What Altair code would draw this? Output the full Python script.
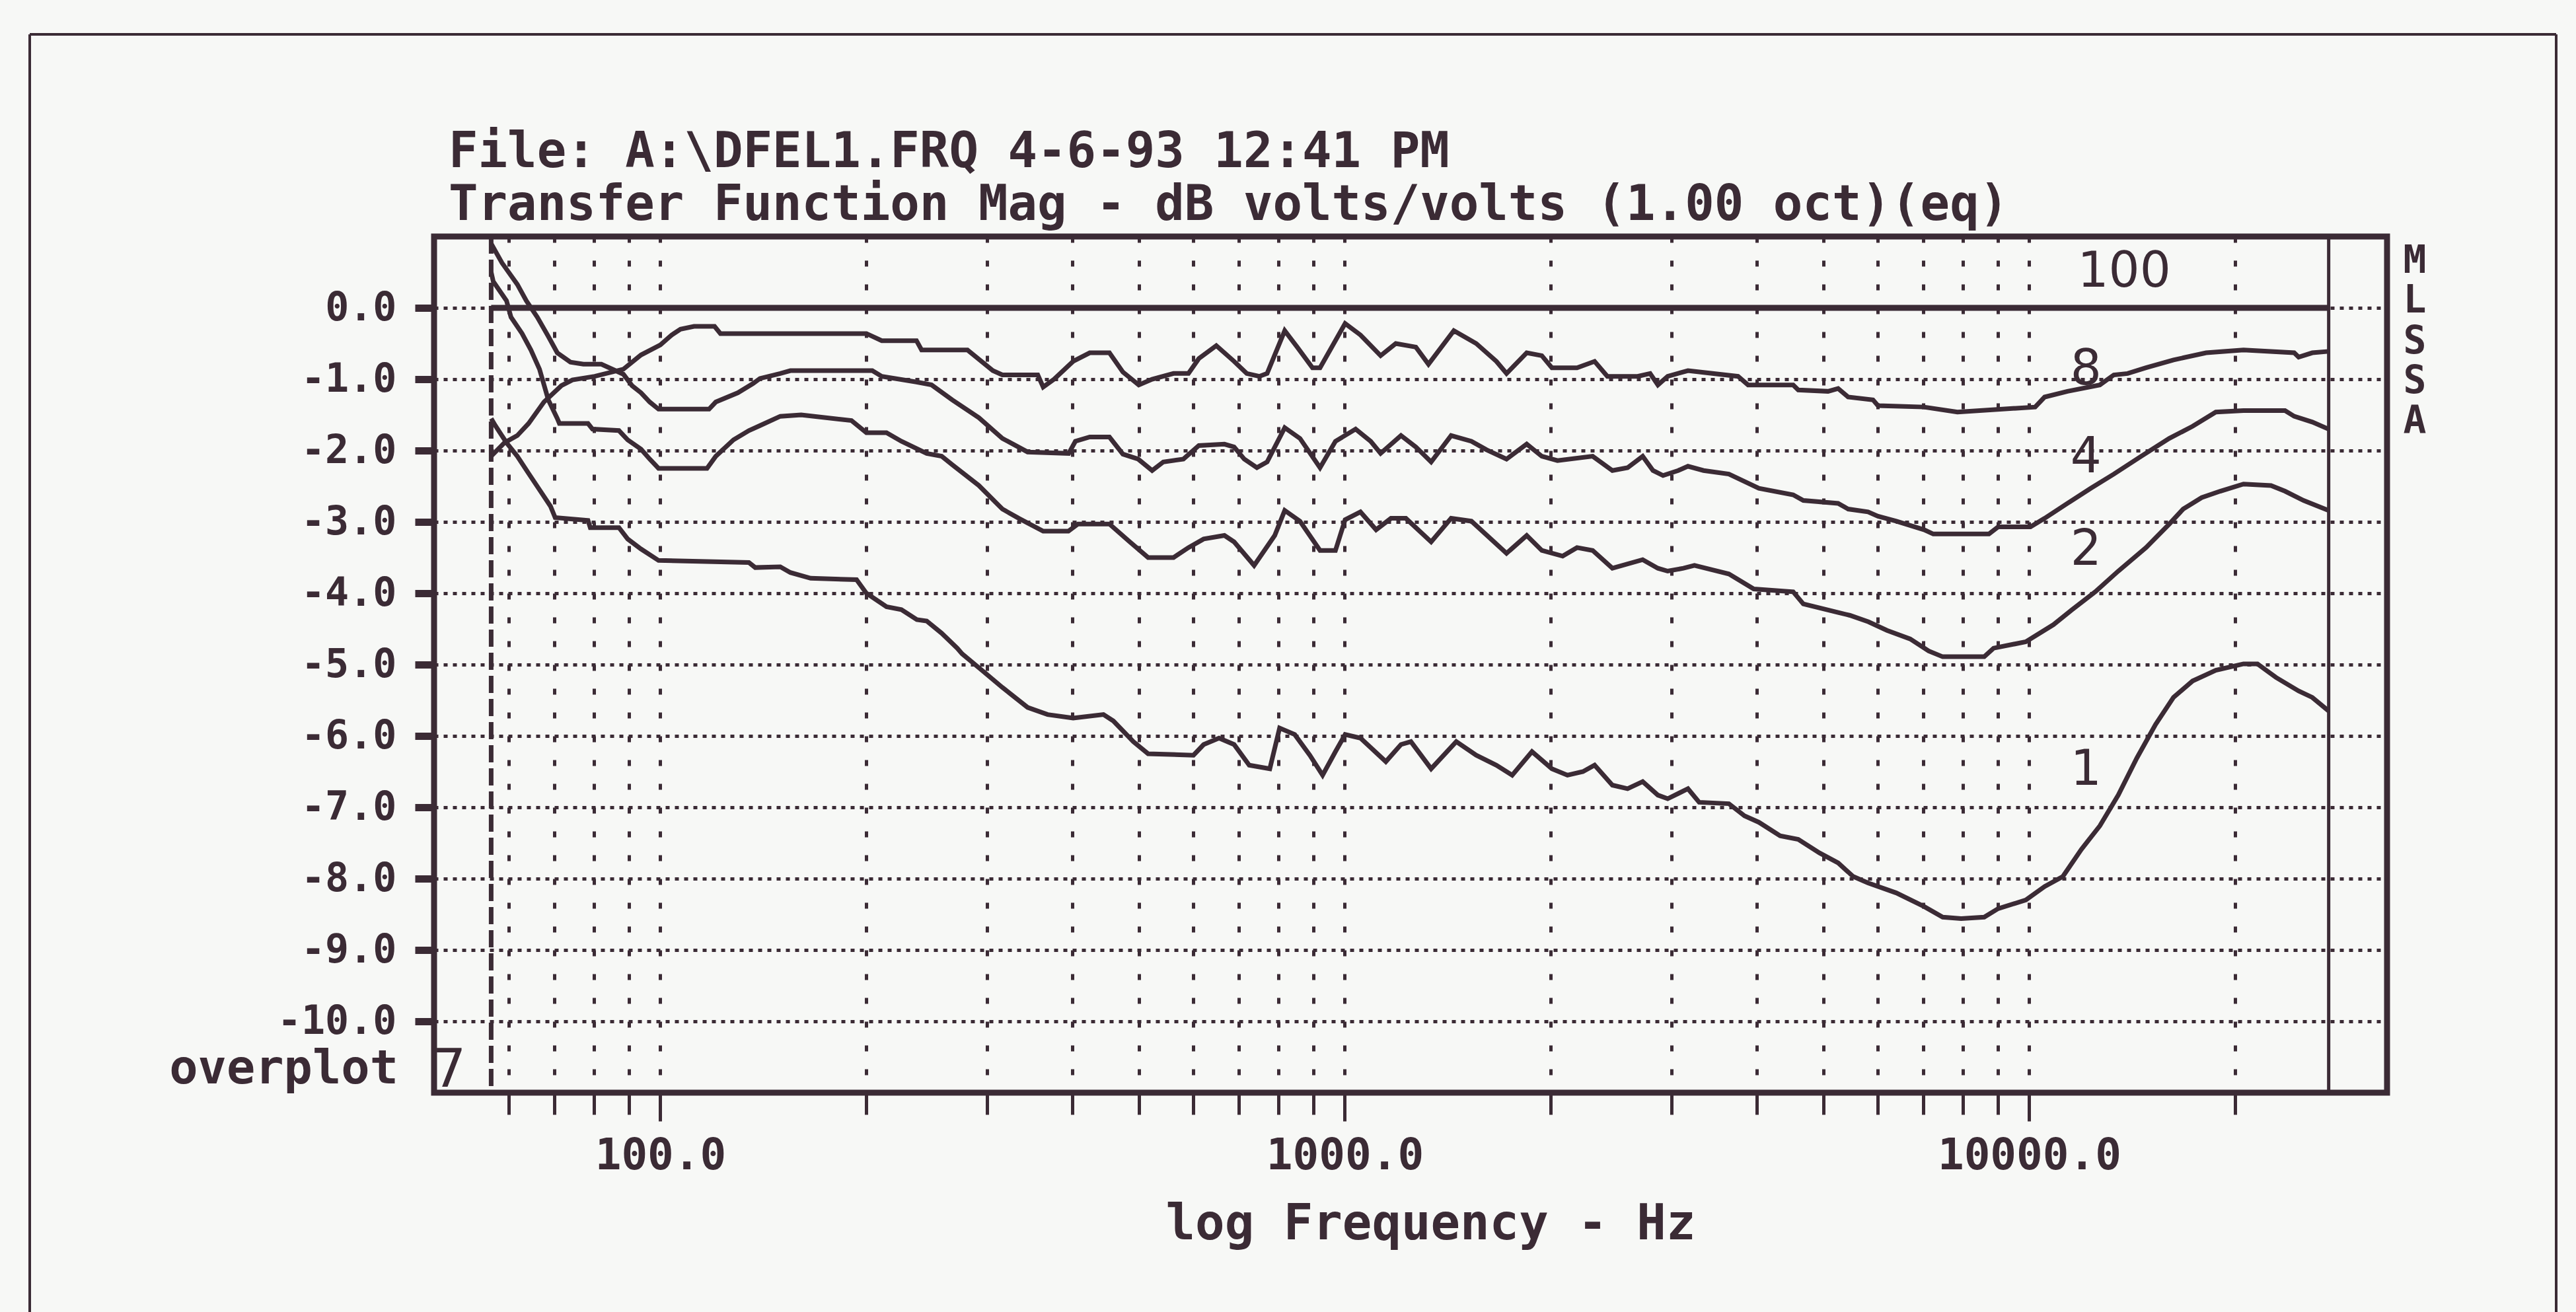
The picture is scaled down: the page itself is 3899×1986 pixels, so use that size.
import altair as alt
import pandas as pd

INK = "#3b2b35"
PAPER = "#f7f8f6"
MONO = "DejaVu Sans Mono"
SANS = "DejaVu Sans"

TITLE_1 = "File: A:\\DFEL1.FRQ 4-6-93 12:41 PM"
TITLE_2 = "Transfer Function Mag - dB volts/volts (1.00 oct)(eq)"
X_TITLE = "log Frequency - Hz"

X_DOMAIN = [46.71, 33320]
Y_DOMAIN = [-11, 1]
X_TICKS = [60, 70, 80, 90, 100, 200, 300, 400, 500, 600, 700, 800, 900,
           1000, 2000, 3000, 4000, 5000, 6000, 7000, 8000, 9000, 10000, 20000]
X_MAJOR = [100, 1000, 10000]
Y_TICKS = [-10, -9, -8, -7, -6, -5, -4, -3, -2, -1, 0]

# data window limits (left dashed boundary, right inner boundary)
BOUNDS = [56.6, 27380]

FREQ_100 = [56.6, 27380]
DB_100 = [0.0, 0.0]

FREQ_8 = [56.6, 59.2, 61.8, 64.2, 67.6, 71.7, 74.4, 80.2, 88.3, 93.7, 100, 103.9, 107, 112, 120,
          122.4, 200, 210.6, 236.7, 240.8, 281, 306, 316, 356, 362.5, 376, 401, 424, 453, 474,
          500, 523, 562, 591, 612, 649, 689, 719, 750, 770, 817, 852, 897, 920, 1001, 1054,
          1128, 1187, 1270, 1325, 1443, 1556, 1665, 1723, 1844, 1940, 2007, 2184, 2317, 2419,
          2678, 2793, 2867, 2963, 3172, 3754, 3883, 4519, 4597, 5082, 5257, 5437, 5911, 6011,
          7017, 7853, 10199, 10530, 11372, 12680, 13290, 13920, 14810, 16245, 18130, 20557,
          24380, 24750, 25910, 27380]
DB_8 = [-2.08, -1.89, -1.79, -1.62, -1.32, -1.09, -1.01, -0.96, -0.86, -0.66, -0.52, -0.38, -0.30,
        -0.26, -0.26, -0.36, -0.36, -0.46, -0.46, -0.59, -0.59, -0.88, -0.94, -0.94, -1.11, -1.00,
        -0.75, -0.63, -0.63, -0.90, -1.08, -1.00, -0.92, -0.92, -0.71, -0.53, -0.75, -0.92, -0.96,
        -0.92, -0.32, -0.55, -0.84, -0.84, -0.22, -0.38, -0.67, -0.50, -0.55, -0.79, -0.32, -0.50,
        -0.75, -0.92, -0.63, -0.67, -0.84, -0.84, -0.75, -0.96, -0.96, -0.92, -1.08, -0.96, -0.88,
        -0.96, -1.08, -1.08, -1.15, -1.17, -1.13, -1.25, -1.29, -1.37, -1.39, -1.46, -1.39, -1.25,
        -1.17, -1.08, -0.94, -0.92, -0.84, -0.73, -0.63, -0.59, -0.63, -0.69, -0.63, -0.61]

FREQ_4 = [56.6, 58.7, 61.8, 63.7, 66.1, 68.6, 70.7, 73.9, 77.2, 82.0, 88.3, 90.9, 93.7, 96.5, 99.4,
          117.8, 120.5, 129.8, 136.6, 139.8, 149.7, 154.9, 204, 210.6, 236.7, 249, 267, 292, 316,
          344, 395, 404, 424, 453, 474, 499, 523, 543, 581, 612, 667, 689, 713, 744, 770, 817,
          860, 920, 969, 1037, 1091, 1128, 1208, 1270, 1337, 1430, 1531, 1611, 1723, 1844, 1940,
          2045, 2302, 2460, 2589, 2724, 2820, 2917, 3070, 3172, 3343, 3640, 4027, 4519, 4676,
          5257, 5437, 5813, 6011, 6392, 7017, 7240, 8731, 9007, 10040, 10530, 11372, 12293,
          13290, 14573, 16016, 17323, 18730, 20557, 23640, 24380, 25910, 27380]
DB_4 = [0.90, 0.63, 0.33, 0.10, -0.13, -0.40, -0.63, -0.76, -0.79, -0.79, -0.93, -1.09, -1.19,
        -1.32, -1.42, -1.42, -1.32, -1.19, -1.06, -0.99, -0.92, -0.88, -0.88, -0.96, -1.04, -1.08,
        -1.29, -1.54, -1.83, -2.02, -2.04, -1.87, -1.81, -1.81, -2.05, -2.12, -2.28, -2.16, -2.12,
        -1.93, -1.91, -1.95, -2.12, -2.24, -2.16, -1.68, -1.83, -2.24, -1.87, -1.70, -1.87, -2.04,
        -1.79, -1.95, -2.16, -1.79, -1.87, -1.99, -2.12, -1.91, -2.08, -2.14, -2.08, -2.28, -2.24,
        -2.08, -2.28, -2.35, -2.28, -2.22, -2.28, -2.33, -2.53, -2.62, -2.70, -2.74, -2.82, -2.86,
        -2.92, -2.99, -3.11, -3.17, -3.17, -3.07, -3.07, -2.95, -2.74, -2.53, -2.33, -2.08, -1.83,
        -1.66, -1.46, -1.44, -1.44, -1.52, -1.60, -1.70]

FREQ_2 = [56.6, 57.0, 59.6, 60.5, 62.8, 64.7, 66.6, 68.6, 70.7, 71.2, 78.4, 79.6, 87.0, 89.6, 93.7,
          96.5, 99.4, 117, 120.5, 127.9, 134.7, 139.8, 149.7, 160.6, 190.2, 200, 214, 225, 245,
          257.6, 267, 292, 316, 334, 362.5, 394.6, 407.5, 453, 485, 516, 562, 591, 622, 667, 689,
          737, 790, 817, 860, 920, 969, 1001, 1054, 1111, 1168, 1228, 1337, 1430, 1531, 1723,
          1844, 1940, 2081, 2184, 2302, 2460, 2724, 2867, 2963, 3124, 3242, 3640, 3958, 4519,
          4676, 5257, 5470, 5822, 6196, 6698, 7130, 7473, 8594, 8869, 9884, 10848, 11553, 12485,
          13489, 14810, 16016, 16782, 17860, 19010, 20557, 22553, 23640, 25160, 27380]
DB_2 = [0.50, 0.37, 0.10, -0.13, -0.36, -0.59, -0.86, -1.29, -1.55, -1.62, -1.62, -1.70, -1.72,
        -1.85, -1.98, -2.12, -2.25, -2.25, -2.08, -1.85, -1.72, -1.65, -1.52, -1.50, -1.58, -1.75,
        -1.75, -1.87, -2.04, -2.08, -2.20, -2.49, -2.82, -2.95, -3.13, -3.13, -3.03, -3.03, -3.28,
        -3.50, -3.50, -3.36, -3.24, -3.19, -3.28, -3.61, -3.19, -2.84, -2.99, -3.40, -3.40, -2.97,
        -2.86, -3.11, -2.95, -2.95, -3.28, -2.95, -2.99, -3.44, -3.19, -3.40, -3.48, -3.36, -3.40,
        -3.65, -3.53, -3.65, -3.69, -3.65, -3.61, -3.73, -3.94, -3.98, -4.15, -4.27, -4.31, -4.40,
        -4.52, -4.64, -4.81, -4.89, -4.89, -4.77, -4.68, -4.44, -4.23, -3.98, -3.69, -3.36, -3.03,
        -2.82, -2.66, -2.57, -2.47, -2.49, -2.57, -2.70, -2.84]

FREQ_1 = [56.6, 57.4, 59.6, 61.8, 64.2, 66.6, 69.1, 70.2, 78.4, 79.0, 87.0, 89.6, 93.7, 99.4,
          134.7, 137.6, 149.7, 154.9, 165.8, 193.5, 200, 214, 225, 237, 245, 257.6, 271.5, 276,
          295, 316, 344, 368, 401, 444, 459, 491, 516, 601, 622, 655, 689, 725, 777, 803, 845,
          889, 928, 969, 1001, 1054, 1148, 1208, 1249, 1337, 1455, 1556, 1665, 1756, 1877, 2007,
          2115, 2228, 2317, 2460, 2589, 2724, 2867, 2963, 3172, 3294, 3640, 3837, 4027, 4325,
          4597, 4939, 5257, 5530, 5813, 6392, 7017, 7473, 7952, 8594, 9007, 9884, 10530, 11195,
          11914, 12680, 13489, 14360, 15290, 16245, 17323, 18730, 20557, 21550, 22930, 24750,
          25910, 27380]
DB_1 = [-1.55, -1.65, -1.89, -2.08, -2.32, -2.55, -2.78, -2.94, -2.98, -3.08, -3.08, -3.24, -3.38,
        -3.54, -3.57, -3.64, -3.63, -3.71, -3.79, -3.81, -4.00, -4.19, -4.23, -4.37, -4.39, -4.56,
        -4.77, -4.85, -5.08, -5.32, -5.60, -5.70, -5.75, -5.70, -5.79, -6.08, -6.25, -6.27, -6.12,
        -6.03, -6.12, -6.41, -6.46, -5.89, -5.98, -6.27, -6.55, -6.22, -5.98, -6.03, -6.36, -6.12,
        -6.08, -6.46, -6.08, -6.27, -6.41, -6.55, -6.22, -6.46, -6.55, -6.50, -6.41, -6.69, -6.74,
        -6.64, -6.83, -6.88, -6.74, -6.93, -6.95, -7.12, -7.21, -7.40, -7.45, -7.64, -7.78, -7.97,
        -8.06, -8.20, -8.39, -8.54, -8.56, -8.54, -8.42, -8.30, -8.11, -7.97, -7.59, -7.26, -6.83,
        -6.31, -5.84, -5.46, -5.23, -5.08, -4.99, -4.99, -5.18, -5.37, -5.46, -5.65]

CURVE_NAMES = ["100", "8", "4", "2", "1"]
CURVE_FREQS = [FREQ_100, FREQ_8, FREQ_4, FREQ_2, FREQ_1]
CURVE_DBS = [DB_100, DB_8, DB_4, DB_2, DB_1]

LABEL_TEXT = ["100", "8", "4", "2", "1"]
LABEL_FREQ = [13760, 12100, 12100, 12100, 12100]
LABEL_DB = [0.50, -0.87, -2.10, -3.40, -6.48]

SIDE_TEXT = ["M", "L", "S", "S", "A"]
SIDE_FREQ = [36580, 36580, 36580, 36580, 36580]
SIDE_DB = [0.65, 0.09, -0.48, -1.04, -1.60]

rows = []
for name, fs, ds in zip(CURVE_NAMES, CURVE_FREQS, CURVE_DBS):
    for f, d in zip(fs, ds):
        rows.append({"curve": name, "freq": f, "db": d})
curves_df = pd.DataFrame(rows)

labels_df = pd.DataFrame({"t": LABEL_TEXT, "freq": LABEL_FREQ, "db": LABEL_DB})
side_df = pd.DataFrame({"t": SIDE_TEXT, "freq": SIDE_FREQ, "db": SIDE_DB})
bound_left = pd.DataFrame({"freq": BOUNDS[:1]})
bound_right = pd.DataFrame({"freq": BOUNDS[1:]})

xscale = alt.Scale(type="log", domain=X_DOMAIN, nice=False)
yscale = alt.Scale(domain=Y_DOMAIN, nice=False, zero=False)

major_test = " || ".join(f"datum.value == {v}" for v in X_MAJOR)

x_axis = alt.Axis(
    values=X_TICKS,
    grid=True, gridColor=INK, gridWidth=5, gridDash=[9, 27], gridOpacity=1,
    domain=False,
    ticks=True, tickColor=INK, tickWidth=5,
    tickSize={"condition": {"test": major_test, "value": 43}, "value": 33},
    labelExpr=f"({major_test}) ? format(datum.value, '.1f') : ''",
    labelFont=MONO, labelFontSize=66, labelFontWeight="bold", labelColor=INK,
    labelBaseline="alphabetic", labelPadding=72, labelOverlap=False, labelFlush=False,
    labelLimit=1000,
    title=X_TITLE, titleFont=MONO, titleFontSize=74, titleFontWeight="bold", titleColor=INK,
    titleX=1508, titleY=221, titleBaseline="alphabetic", titleAlign="center", titleLimit=3000,
)
y_axis = alt.Axis(
    values=Y_TICKS,
    grid=True, gridColor=INK, gridWidth=5, gridDash=[6, 8], gridOpacity=1,
    domain=False,
    ticks=True, tickColor=INK, tickWidth=11, tickSize=29,
    labelExpr="(datum.value < 0 ? '-' : '') + format(abs(datum.value), '.1f')",
    labelFont=MONO, labelFontSize=60, labelFontWeight="bold", labelColor=INK,
    labelPadding=28, labelAlign="right", labelBaseline="middle", labelLimit=1000,
    title=None,
)


def X(field="freq:Q"):
    return alt.X(field, scale=xscale, axis=x_axis)


def Y(field="db:Q"):
    return alt.Y(field, scale=yscale, axis=y_axis)


lines = alt.Chart(curves_df).mark_line(color=INK).encode(
    x=X(),
    y=Y(),
    detail="curve:N",
    strokeWidth=alt.condition(alt.datum.curve == "100", alt.value(9), alt.value(7)),
)

left_bound = alt.Chart(bound_left).mark_rule(color=INK, strokeWidth=7, strokeDash=[26, 9]).encode(
    x=X()
)
right_bound = alt.Chart(bound_right).mark_rule(color=INK, strokeWidth=5).encode(
    x=X()
)

curve_labels = alt.Chart(labels_df).mark_text(
    font=SANS, fontSize=74, color=INK, align="center", baseline="middle"
).encode(x=X(), y=Y(), text="t:N")

side_labels = alt.Chart(side_df).mark_text(
    font=MONO, fontSize=58, fontWeight="bold", color=INK, align="center", baseline="middle"
).encode(x=X(), y=Y(), text="t:N")

title1 = alt.Chart(pd.DataFrame({"t": [TITLE_1]})).mark_text(
    font=MONO, fontSize=74, fontWeight="bold", color=INK, align="left", baseline="alphabetic"
).encode(text="t:N", x=alt.value(22), y=alt.value(-105))

title2 = alt.Chart(pd.DataFrame({"t": [TITLE_2]})).mark_text(
    font=MONO, fontSize=74, fontWeight="bold", color=INK, align="left", baseline="alphabetic"
).encode(text="t:N", x=alt.value(22), y=alt.value(-25))

overplot = alt.Chart(pd.DataFrame({"t": ["overplot"]})).mark_text(
    font=MONO, fontSize=72, fontWeight="bold", color=INK, align="right", baseline="alphabetic"
).encode(text="t:N", x=alt.value(-54), y=alt.value(1282))

seven = alt.Chart(pd.DataFrame({"t": ["7"]})).mark_text(
    font=SANS, fontSize=80, color=INK, align="center", baseline="alphabetic"
).encode(text="t:N", x=alt.value(23), y=alt.value(1287))

page_left = alt.Chart(pd.DataFrame({"a": [0]})).mark_rule(color=INK, strokeWidth=4).encode(
    x=alt.value(-612), y=alt.value(-306), y2=alt.value(1640)
)
page_top = alt.Chart(pd.DataFrame({"a": [0]})).mark_rule(color=INK, strokeWidth=4).encode(
    x=alt.value(-612), x2=alt.value(3212), y=alt.value(-306)
)
page_right = alt.Chart(pd.DataFrame({"a": [0]})).mark_rule(color=INK, strokeWidth=4).encode(
    x=alt.value(3212), y=alt.value(-306), y2=alt.value(1640)
)

chart = alt.layer(
    lines, left_bound, right_bound, curve_labels, side_labels,
    title1, title2, overplot, seven, page_left, page_top, page_right,
).properties(
    width=2956,
    height=1296,
    padding={"left": 657, "top": 358, "right": 286, "bottom": 332},
    autosize=alt.AutoSizeParams(type="none"),
    background=PAPER,
).configure_view(
    stroke=INK, strokeWidth=9
)

chart.save("out.html", embed_options={"renderer": "svg", "actions": False})
